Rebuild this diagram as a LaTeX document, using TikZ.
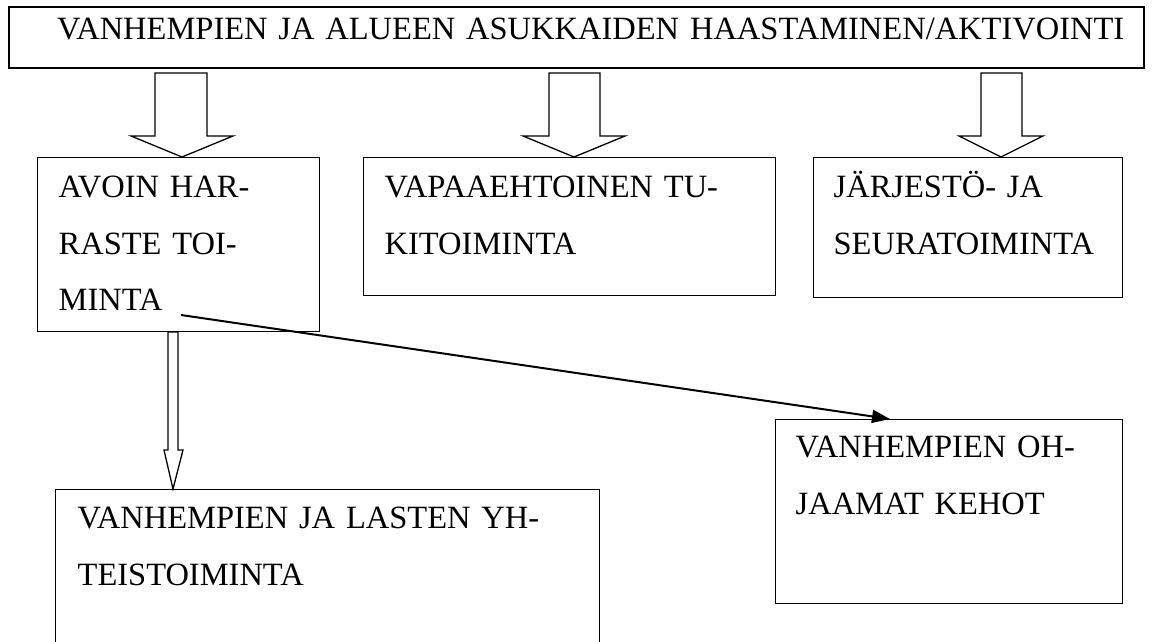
\documentclass[tikz,border=0pt]{standalone}
\usepackage{fontspec}
\setmainfont{Liberation Serif}
\usetikzlibrary{positioning,calc,arrows.meta}
\tikzset{
    boxnode/.style={draw, line width=1.3pt, anchor=north west, align=left, inner ysep=0pt, inner xsep=21pt, text height=40pt, font=\fontsize{32.5}{56.5}\selectfont},
    hollowarrow/.style={draw, fill=white, line width=1.3pt, line join=miter},
    thinarrow/.style={-{Triangle[length=18pt,width=13pt]}, line width=2pt}
}

\begin{document}
\begin{tikzpicture}[x=1pt, y=-1pt]
    \useasboundingbox (0,0) rectangle (1153,642);

    % --- LAATIKOT ---
    \node[boxnode, line width=2pt, inner xsep=4pt, text height=33pt, text depth=28pt, text width=1127pt] (haaste) at (8,6)
        {\hspace*{44pt}VANHEMPIEN JA ALUEEN ASUKKAIDEN HAASTAMINEN/AKTIVOINTI};
    \node[boxnode, text width=240pt, text depth=134pt] (avoin) at (37,157)
        {AVOIN HAR-\\RASTE TOI-\\MINTA};
    \node[boxnode, text width=370pt, text depth=98pt] (vapaa) at (363,157)
        {VAPAAEHTOINEN TU-\\KITOIMINTA};
    \node[boxnode, inner xsep=20pt, text width=269pt, text depth=100pt] (jarjesto) at (813,157)
        {JÄRJESTÖ- JA\\SEURATOIMINTA};
    \node[boxnode, inner xsep=22pt, text width=500pt, text height=39pt, text depth=160pt] (yhteis) at (55,489)
        {VANHEMPIEN JA LASTEN YH-\\TEISTOIMINTA};
    \node[boxnode, inner xsep=20pt, text width=307pt, text height=38pt, text depth=146pt] (ohjaamat) at (775,419)
        {VANHEMPIEN OH-\\JAAMAT KEHOT};

    % --- ISOT NUOLET ---
    \coordinate (k1) at ($(avoin.north west)+(145,0)$);
    \coordinate (k2) at ($(vapaa.north west)+(211,0)$);
    \coordinate (k3) at ($(jarjesto.north west)+(188,0)$);
    \draw[hollowarrow] (k1) -- ++(-51,-21) -- ++(24,0) -- ++(0,-63) -- ++(52,0) -- ++(0,63) -- ++(26,0) -- cycle;
    \draw[hollowarrow] (k2) -- ++(-51,-21) -- ++(26,0) -- ++(0,-63) -- ++(51,0) -- ++(0,63) -- ++(25,0) -- cycle;
    \draw[hollowarrow] (k3) -- ++(-42,-21) -- ++(22,0) -- ++(0,-63) -- ++(41,0) -- ++(0,63) -- ++(21,0) -- cycle;

    % kapea nuoli alas
    \coordinate (k4) at ($(yhteis.north west)+(118,0)$);
    \draw[hollowarrow] (k4) -- ++(-9,-39) -- ++(4,0) -- ++(0,-118) -- ++(10,0) -- ++(0,118) -- ++(5,0) -- cycle;

    % --- OHUT NUOLI ---
    \coordinate (alku) at ($(avoin.north west)+(144,158)$);
    \draw[thinarrow] (alku) -- ($(ohjaamat.north west)+(115,0)$);
\end{tikzpicture}
\end{document}
